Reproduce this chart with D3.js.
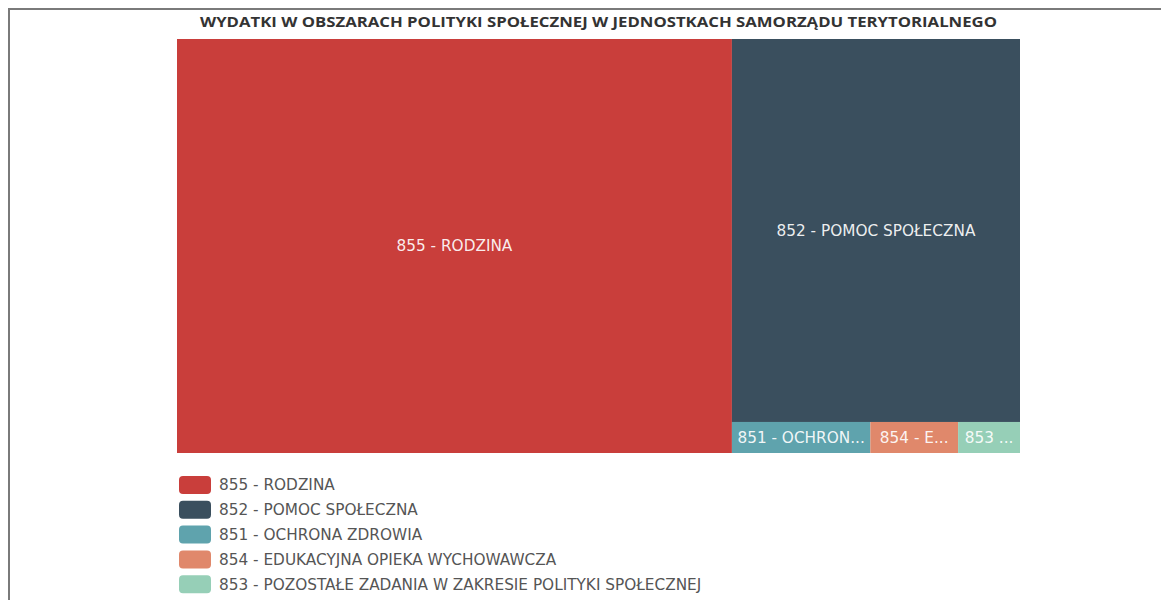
<!DOCTYPE html>
<html>
<head>
<meta charset="utf-8">
<script src="https://cdn.jsdelivr.net/npm/d3@7"></script>
<style>
  html, body { margin: 0; padding: 0; background: #fff; }
  svg { display: block; }
</style>
</head>
<body>
<script>
// Spending shares by budget division (percent of total)
const codes = ["855", "852", "851", "854", "853"];
const names = [
  "855 - RODZINA",
  "852 - POMOC SPOŁECZNA",
  "851 - OCHRONA ZDROWIA",
  "854 - EDUKACYJNA OPIEKA WYCHOWAWCZA",
  "853 - POZOSTAŁE ZADANIA W ZAKRESIE POLITYKI SPOŁECZNEJ"
];
const values = [65.8, 31.6, 1.23, 0.78, 0.55];
const colors = ["#c93e3b", "#3a4f5e", "#5fa3ad", "#e0886b", "#96cfb7"];
const title = "WYDATKI W OBSZARACH POLITYKI SPOŁECZNEJ W JEDNOSTKACH SAMORZĄDU TERYTORIALNEGO";

const W = 1161, H = 600;
const font = "'DejaVu Sans', 'Open Sans', sans-serif";
const titleFont = "'Open Sans', 'DejaVu Sans', sans-serif";

const svg = d3.select("body").append("svg")
  .attr("width", W).attr("height", H);

// page frame
svg.append("path")
  .attr("d", `M9,${H} L9,9 L${W},9`)
  .attr("fill", "none").attr("stroke", "#7a7a7a").attr("stroke-width", 2);

// title
svg.append("text")
  .attr("x", 598.5).attr("y", 27)
  .attr("text-anchor", "middle")
  .attr("font-family", titleFont).attr("font-weight", "bold")
  .attr("font-size", 13.5).attr("fill", "#333")
  .attr("textLength", 797).attr("lengthAdjust", "spacingAndGlyphs")
  .text(title);

// treemap
const box = { x0: 177, y0: 39, x1: 1020, y1: 453 };
const data = { children: codes.map((c, i) => ({ code: c, name: names[i], value: values[i], color: colors[i] })) };
const root = d3.hierarchy(data).sum(d => d.value || 0).sort((a, b) => b.value - a.value);
d3.treemap()
  .tile(d3.treemapSquarify)
  .size([box.x1 - box.x0, box.y1 - box.y0])
  .paddingInner(0)(root);

const g = svg.append("g").attr("transform", `translate(${box.x0},${box.y0})`);
const cells = g.selectAll("g.cell").data(root.leaves()).join("g")
  .attr("class", "cell")
  .attr("transform", d => `translate(${d.x0},${d.y0})`);

cells.append("rect")
  .attr("width", d => d.x1 - d.x0)
  .attr("height", d => d.y1 - d.y0)
  .attr("fill", d => d.data.color);

cells.append("text")
  .attr("x", d => (d.x1 - d.x0) / 2)
  .attr("y", d => (d.y1 - d.y0) / 2)
  .attr("dy", "0.35em")
  .attr("text-anchor", "middle")
  .attr("font-family", font).attr("font-size", 15.3)
  .attr("fill", "#fff").attr("fill-opacity", 0.92)
  .text(d => d.data.name)
  .each(function (d) {
    // shorten the label with an ellipsis when it overflows the cell
    const el = d3.select(this);
    const maxW = (d.x1 - d.x0) - 11;
    let txt = d.data.name;
    if (this.getComputedTextLength() <= maxW) return;
    while (txt.length > 0) {
      txt = txt.slice(0, -1);
      el.text(txt.replace(/ -$/, " ") + "...");
      if (this.getComputedTextLength() <= maxW) break;
    }
  });

// legend
const legend = svg.append("g").attr("transform", "translate(179,476)");
const rowH = 24.8;
const items = legend.selectAll("g").data(names).join("g")
  .attr("transform", (d, i) => `translate(0,${i * rowH})`);
items.append("rect")
  .attr("width", 32).attr("height", 18).attr("rx", 4)
  .attr("fill", (d, i) => colors[i]);
items.append("text")
  .attr("x", 40).attr("y", 9).attr("dy", "0.35em")
  .attr("font-family", font).attr("font-size", 15.3)
  .attr("fill", "#555")
  .text(d => d);
</script>
</body>
</html>
